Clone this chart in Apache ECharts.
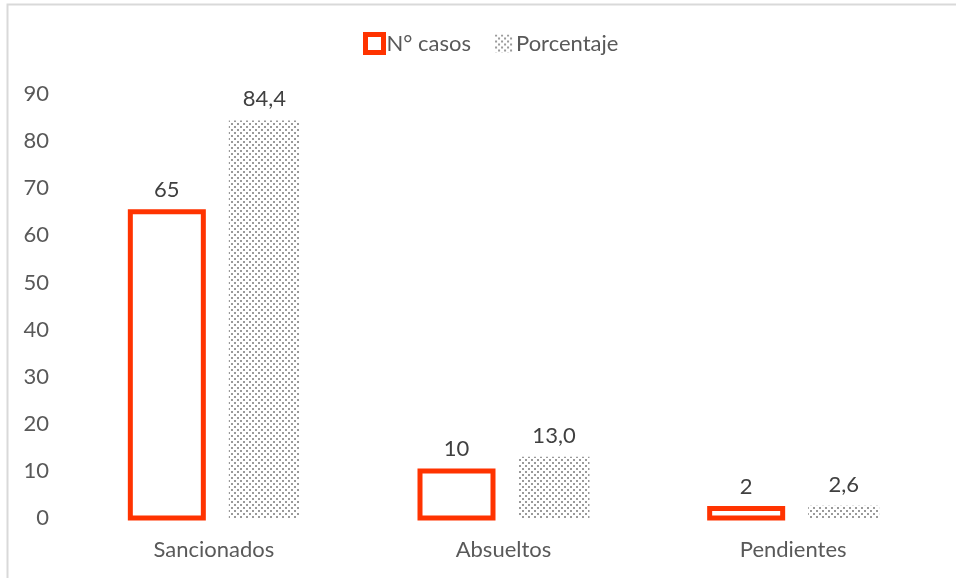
<!DOCTYPE html>
<html><head><meta charset="utf-8">
<script src="https://cdn.jsdelivr.net/npm/echarts@6/dist/echarts.min.js"></script>
<style>html,body{margin:0;padding:0;background:#fff}#c{width:956px;height:578px}</style>
</head><body><div id="c"></div>
<script>
const categories = ['Sancionados', 'Absueltos', 'Pendientes'];
const casos = [65, 10, 2];
const porcentaje = [84.4, 13.0, 2.6];
const seriesNames = ['N° casos', 'Porcentaje'];
const yTicks = { min: 0, max: 90, interval: 10 };

const tile = document.createElement('canvas');
tile.width = 6; tile.height = 6;
const tc = tile.getContext('2d');
tc.fillStyle = '#ffffff'; tc.fillRect(0,0,6,6);
tc.fillStyle = '#9a9a9a';
tc.fillRect(0,0,2,2); tc.fillRect(3,3,2,2);
const pattern = { image: tile, repeat: 'repeat' };

const FONT = 'Lato';
const FS = 22;
const RED = '#ff3300';
const chart = echarts.init(document.getElementById('c'), null, { renderer: 'canvas' });
chart.setOption({
  animation: false,
  backgroundColor: '#fff',
  graphic: [{ type: 'rect', shape: { x: 7.5, y: 4.5, width: 960, height: 600 }, style: { fill: 'none', stroke: '#d9d9d9', lineWidth: 2 }, silent: true }],
  legend: {
    top: 27, left: 358, itemWidth: 18, itemHeight: 18, itemGap: 24,
    textStyle: { color: '#595959', fontSize: FS, fontFamily: FONT, padding: [0, 0, 0, -2] },
    data: [
      { name: seriesNames[0], icon: 'rect', itemStyle: { color: '#fff', borderColor: RED, borderWidth: 5 } },
      { name: seriesNames[1], icon: 'rect', itemStyle: { color: pattern } }
    ]
  },
  grid: { left: 69, right: 18, top: 94, bottom: 60 },
  xAxis: {
    type: 'category', data: categories,
    axisLine: { show: false }, axisTick: { show: false },
    axisLabel: { color: '#595959', fontSize: FS, fontFamily: FONT, margin: 21 }
  },
  yAxis: {
    type: 'value', min: yTicks.min, max: yTicks.max, interval: yTicks.interval,
    splitLine: { show: false }, axisLine: { show: false }, axisTick: { show: false },
    axisLabel: { color: '#595959', fontSize: FS, fontFamily: FONT, margin: 20 }
  },
  series: [
    { name: seriesNames[0], type: 'bar', data: casos, barWidth: 78, barGap: '29.5%',
      itemStyle: { color: 'rgba(0,0,0,0)' },
      label: { show: true, position: 'top', distance: 11, color: '#404040', fontSize: FS, fontFamily: FONT } },
    { name: seriesNames[1], type: 'bar', data: porcentaje, barWidth: 71,
      itemStyle: { color: pattern },
      label: { show: true, position: 'top', distance: 10, color: '#404040', fontSize: FS, fontFamily: FONT,
        formatter: p => p.value.toFixed(1).replace('.', ',') } },
    { name: seriesNames[0], type: 'custom', data: casos.map((v, i) => [i, v]),
      encode: { x: 0, y: 1 },
      renderItem: function (params, api) {
        const top = api.coord([api.value(0), api.value(1)]);
        const base = api.coord([api.value(0), 0]);
        const cx = top[0] - 47;
        return { type: 'rect', shape: { x: cx - 36.5, y: top[1], width: 73, height: base[1] - top[1] },
          style: { fill: '#ffffff', stroke: RED, lineWidth: 5 } };
      } }
  ]
});
</script></body></html>
